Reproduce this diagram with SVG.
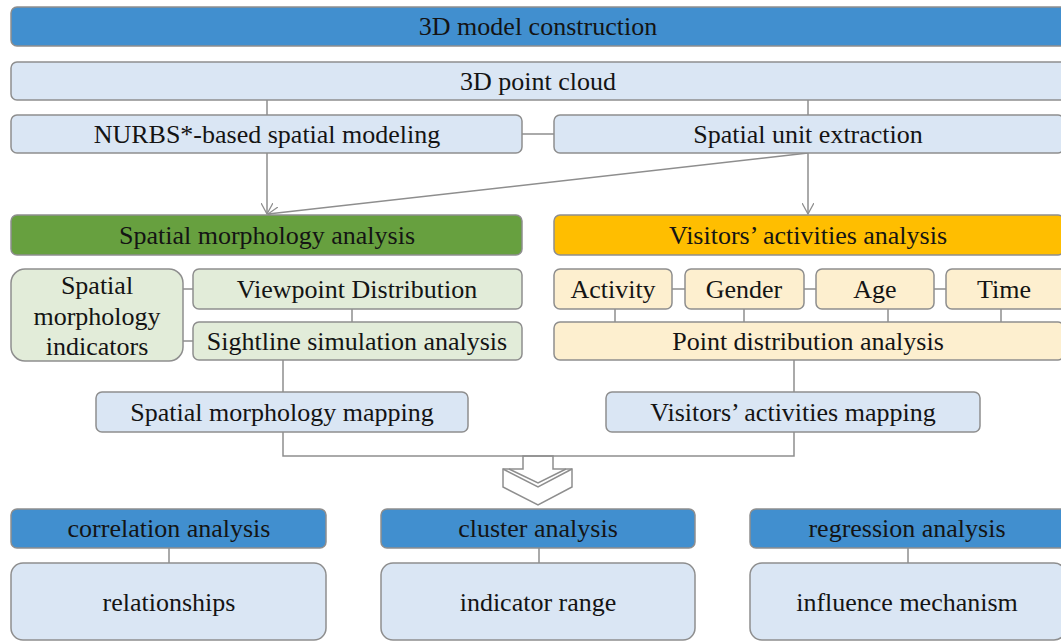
<svg xmlns="http://www.w3.org/2000/svg" width="1061" height="644" viewBox="0 0 1061 644">
<style>
rect{stroke:#8e8e8e;stroke-width:1.5}
.blue{fill:#418fcf}
.lb{fill:#dae6f4}
.green{fill:#67a03f}
.lg{fill:#e2ecd9}
.orange{fill:#ffbe00}
.lo{fill:#fdefcf}
text{font-family:"Liberation Serif","Nimbus Roman","Nimbus Roman No9 L","Noto Serif","FreeSerif","DejaVu Serif","Times New Roman",Times,Georgia,serif;font-size:26px;fill:#141414;text-anchor:middle}
.conn line,.conn path{stroke:#8e8e8e;stroke-width:1.5;fill:none}
</style>
<defs>
<marker id="arr" viewBox="0 0 12 12" refX="11" refY="6" markerWidth="12" markerHeight="12" markerUnits="userSpaceOnUse" orient="auto">
<path d="M0,0 L11,6 L0,12" fill="none" stroke="#8e8e8e" stroke-width="1.3"/>
</marker>
</defs>
<rect width="1061" height="644" fill="#ffffff" style="stroke:none"/>
<g class="conn">
<line x1="267" y1="100" x2="267" y2="115"/>
<line x1="808" y1="100" x2="808" y2="115"/>
<line x1="522" y1="134" x2="554" y2="134"/>
<line x1="267" y1="153" x2="267" y2="214" marker-end="url(#arr)"/>
<line x1="808" y1="153" x2="808" y2="214" marker-end="url(#arr)"/>
<line x1="808" y1="153" x2="268" y2="214" marker-end="url(#arr)"/>
<line x1="183" y1="289" x2="193" y2="289"/>
<line x1="183" y1="341" x2="193" y2="341"/>
<line x1="352" y1="309" x2="352" y2="322"/>
<line x1="283" y1="360" x2="283" y2="392"/>
<line x1="672" y1="289" x2="685" y2="289"/>
<line x1="804" y1="289" x2="816" y2="289"/>
<line x1="934" y1="289" x2="946" y2="289"/>
<line x1="615" y1="309" x2="615" y2="322"/>
<line x1="744" y1="309" x2="744" y2="322"/>
<line x1="888" y1="309" x2="888" y2="322"/>
<line x1="1001" y1="309" x2="1001" y2="322"/>
<line x1="794" y1="360" x2="794" y2="392"/>
<path d="M283,432 V456 H794 V432"/>
<line x1="169" y1="548" x2="169" y2="563"/>
<line x1="539" y1="548" x2="539" y2="563"/>
<line x1="908" y1="548" x2="908" y2="563"/>
<g id="block-arrow">
<path d="M523,456 V469 H503 V487 L538,505 L572,487 V469 H553 V456 Z" fill="#ffffff"/>
<path d="M503,469 L538,487 L572,469"/>
<path d="M509,469 L538,483 L566,469"/>
</g>
</g>
<g id="n-model"><rect class="blue" x="11" y="7" width="1056" height="39" rx="6"/><text x="538" y="35">3D model construction</text></g>
<g id="n-cloud"><rect class="lb" x="11" y="62" width="1056" height="38" rx="6"/><text x="538" y="90">3D point cloud</text></g>
<g id="n-nurbs"><rect class="lb" x="11" y="115" width="511" height="38" rx="6"/><text x="267" y="143">NURBS*-based spatial modeling</text></g>
<g id="n-unit"><rect class="lb" x="554" y="115" width="510" height="38" rx="6"/><text x="808" y="143">Spatial unit extraction</text></g>
<g id="n-sma"><rect class="green" x="11" y="215" width="511" height="40" rx="6"/><text x="267" y="244">Spatial morphology analysis</text></g>
<g id="n-vaa"><rect class="orange" x="554" y="215" width="510" height="40" rx="6"/><text x="808" y="244">Visitors’ activities analysis</text></g>
<g id="n-ind"><rect class="lg" x="11" y="269" width="172" height="92" rx="14"/><text x="97" y="294">Spatial</text><text x="97" y="325">morphology</text><text x="97" y="355">indicators</text></g>
<g id="n-view"><rect class="lg" x="193" y="269" width="329" height="40" rx="6"/><text x="357" y="298">Viewpoint Distribution</text></g>
<g id="n-sight"><rect class="lg" x="193" y="322" width="329" height="38" rx="6"/><text x="357" y="350">Sightline simulation analysis</text></g>
<g id="n-smm"><rect class="lb" x="96" y="392" width="372" height="40" rx="6"/><text x="282" y="421">Spatial morphology mapping</text></g>
<g id="n-act"><rect class="lo" x="554" y="269" width="118" height="40" rx="6"/><text x="613" y="298">Activity</text></g>
<g id="n-gen"><rect class="lo" x="685" y="269" width="119" height="40" rx="6"/><text x="744" y="298">Gender</text></g>
<g id="n-age"><rect class="lo" x="816" y="269" width="118" height="40" rx="6"/><text x="875" y="298">Age</text></g>
<g id="n-time"><rect class="lo" x="946" y="269" width="120" height="40" rx="6"/><text x="1004" y="298">Time</text></g>
<g id="n-pda"><rect class="lo" x="554" y="322" width="510" height="38" rx="6"/><text x="808" y="350">Point distribution analysis</text></g>
<g id="n-vam"><rect class="lb" x="606" y="392" width="374" height="40" rx="6"/><text x="793" y="421">Visitors’ activities mapping</text></g>
<g id="n-corr"><rect class="blue" x="11" y="509" width="315" height="39" rx="6"/><text x="169" y="537">correlation analysis</text></g>
<g id="n-rel"><rect class="lb" x="11" y="563" width="315" height="77" rx="12"/><text x="169" y="611">relationships</text></g>
<g id="n-clus"><rect class="blue" x="381" y="509" width="314" height="39" rx="6"/><text x="538" y="537">cluster analysis</text></g>
<g id="n-ind2"><rect class="lb" x="381" y="563" width="314" height="77" rx="12"/><text x="538" y="611">indicator range</text></g>
<g id="n-reg"><rect class="blue" x="750" y="509" width="316" height="39" rx="6"/><text x="907" y="537">regression analysis</text></g>
<g id="n-inf"><rect class="lb" x="750" y="563" width="316" height="77" rx="12"/><text x="907" y="611">influence mechanism</text></g>
</svg>
